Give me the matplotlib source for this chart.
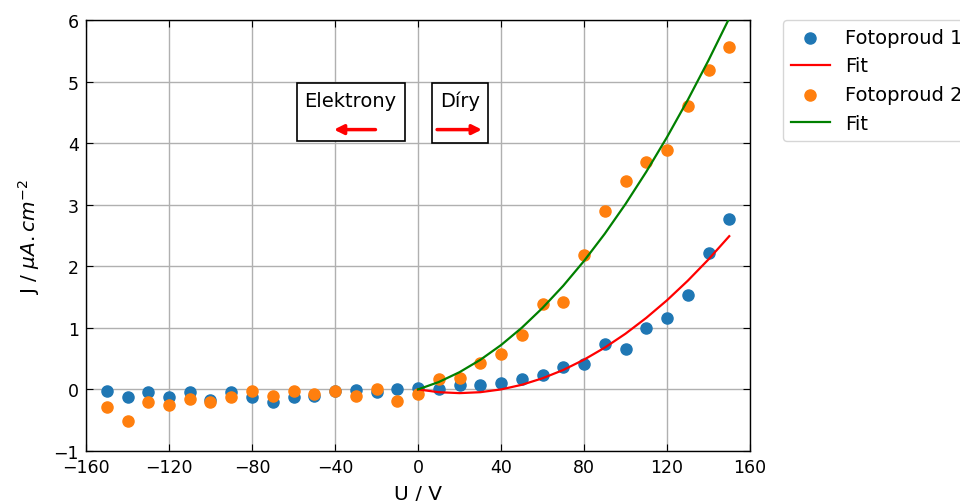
import matplotlib.pyplot as plt
from matplotlib.patches import Rectangle

U = [-150, -140, -130, -120, -110, -100, -90, -80, -70, -60, -50, -40, -30, -20, -10,
     0, 10, 20, 30, 40, 50, 60, 70, 80, 90, 100, 110, 120, 130, 140, 150]

J1 = [-0.03, -0.12, -0.04, -0.12, -0.04, -0.17, -0.04, -0.13, -0.21, -0.13, -0.10, -0.03,
      -0.01, -0.04, 0.01, 0.03, 0.00, 0.08, 0.08, 0.11, 0.17, 0.23, 0.37, 0.42, 0.74, 0.65,
      1.00, 1.16, 1.54, 2.22, 2.77]

J2 = [-0.29, -0.51, -0.20, -0.26, -0.16, -0.21, -0.13, -0.03, -0.10, -0.03, -0.07, -0.03,
      -0.11, 0.00, -0.19, -0.08, 0.17, 0.19, 0.43, 0.58, 0.88, 1.39, 1.42, 2.19, 2.89, 3.38,
      3.70, 3.89, 4.60, 5.18, 5.56]

# fit curves (x >= 0 only)
U_FIT = [0, 10, 20, 30, 40, 50, 60, 70, 80, 90, 100, 110, 120, 130, 140, 150]
FIT1 = [0.0, -0.045, -0.060, -0.045, 0.0, 0.075, 0.181, 0.316, 0.483, 0.679, 0.905,
        1.162, 1.448, 1.765, 2.112, 2.489]
FIT2 = [0.0, 0.120, 0.280, 0.480, 0.720, 1.001, 1.323, 1.684, 2.086, 2.528, 3.011,
        3.534, 4.097, 4.701, 5.345, 6.029]

TICK_FS = 12.5
TEXT_FS = 14
LABEL_FS = 14.5

fig = plt.figure(figsize=(9.6, 5.02), dpi=100)
ax = fig.add_axes([86 / 960, 1 - 452 / 502, 664 / 960, 431 / 502])

ax.scatter(U, J1, s=64, color="#1f77b4", label="Fotoproud 1", zorder=2)
ax.plot(U_FIT, FIT1, color="red", lw=1.6, label="Fit", zorder=3)
ax.scatter(U, J2, s=64, color="#ff7f0e", label="Fotoproud 2", zorder=2)
ax.plot(U_FIT, FIT2, color="green", lw=1.6, label="Fit", zorder=3)

ax.set_xlim(-160, 160)
ax.set_ylim(-1, 6)
ax.set_xticks(range(-160, 161, 40))
ax.set_yticks(range(-1, 7))
ax.grid(True, color="#b0b0b0", lw=1.0, zorder=0)
ax.set_axisbelow(True)
ax.tick_params(direction="in", top=True, right=True, length=5, labelsize=TICK_FS, pad=5)
for sp in ax.spines.values():
    sp.set_linewidth(1.0)

ax.set_xlabel("U / V", fontsize=LABEL_FS, labelpad=6)
ax.set_ylabel(r"J / $\mu A.cm^{-2}$", fontsize=LABEL_FS, labelpad=8)

# direction boxes
ax.add_patch(Rectangle((-58.3, 4.03), 52.0, 0.94, fc="white", ec="black", lw=1.2, zorder=4))
ax.add_patch(Rectangle((6.7, 4.01), 27.0, 0.96, fc="white", ec="black", lw=1.2, zorder=4))
ax.text(-32.6, 4.69, "Elektrony", ha="center", va="center", fontsize=TEXT_FS, zorder=5)
ax.text(20.2, 4.69, "Díry", ha="center", va="center", fontsize=TEXT_FS, zorder=5)
arrow = dict(arrowstyle="-|>", color="red", lw=2.5, mutation_scale=14, shrinkA=0, shrinkB=0)
ax.annotate("", xy=(-40.5, 4.22), xytext=(-20.5, 4.22), arrowprops=arrow, zorder=5)
ax.annotate("", xy=(30.8, 4.22), xytext=(9.2, 4.22), arrowprops=arrow, zorder=5)

ax.legend(loc="upper left", bbox_to_anchor=(1.05, 1), borderaxespad=0, fontsize=TEXT_FS,
          scatterpoints=1)

fig.savefig("out.png", dpi=100)
